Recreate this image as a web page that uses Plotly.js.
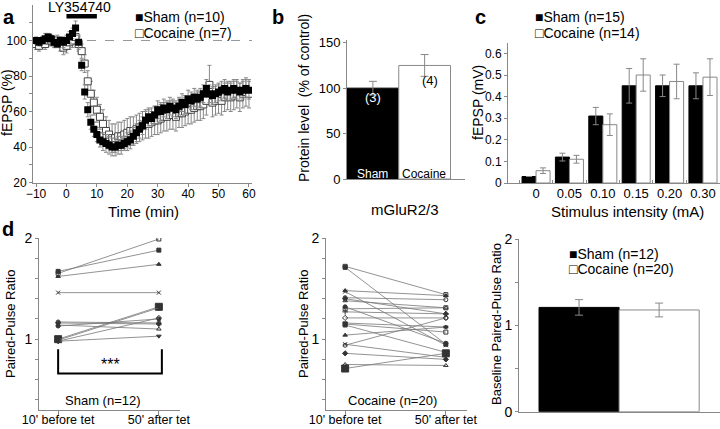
<!DOCTYPE html>
<html><head><meta charset="utf-8">
<script src="https://cdn.plot.ly/plotly-3.0.1.min.js"></script>
<style>html,body{margin:0;padding:0;background:#fff;}#chart{width:720px;height:429px;}</style>
</head><body><div id="chart"></div>
<script>
const F = 'Arial, "Liberation Sans", sans-serif';

// ---------- Panel a : fEPSP time course ----------
const timeMin = [-10,-9,-8,-7,-6,-5,-4,-3,-2,-1,0,1,2,3,4,5,6,7,8,9,10,11,12,13,14,15,16,17,18,19,20,21,22,23,24,25,26,27,28,29,30,31,32,33,34,35,36,37,38,39,40,41,42,43,44,45,46,47,48,49,50,51,52,53,54,55,56,57,58,59,60];
const shamA = [100,99,100,101,102,101,99,98,100,99,100,102,104,107,99,86,71,61,54,50,47,44,43,42,41,40,40,41,41,42,43,44,46,48,50,52,55,57,56,58,61,60,62,61,63,62,61,63,65,64,67,66,68,67,68,70,73,70,69,70,71,72,73,71,72,73,72,71,72,73,72];
const shamAErr = [2,2,2,3,2,2,3,2,2,3,3,3,3,4,4,3,4,4,4,4,4,4,5,5,5,5,5,5,5,4,5,5,5,5,5,5,5,5,4,5,5,5,5,5,5,5,5,5,5,5,5,5,5,5,5,5,5,5,5,5,5,5,5,5,5,5,5,5,5,5,5];
const cocA = [98,97,99,98,100,100,99,100,98,96,97,99,100,102,98,94,87,77,70,65,61,57,53,49,47,45,45,46,46,47,48,49,49,50,51,52,53,53,54,55,55,56,57,57,58,58,57,59,59,60,61,61,62,63,63,64,66,75,65,66,67,66,68,69,68,69,70,68,70,71,70];
const cocAErr = [3,3,3,3,3,3,3,3,4,4,4,4,4,4,4,4,5,6,7,7,7,7,8,8,8,8,8,8,8,8,8,8,8,8,8,8,8,8,8,8,8,8,8,8,8,8,8,8,8,8,8,8,8,8,8,8,8,11,8,8,8,8,8,8,8,8,8,8,8,8,8];
const drugStart = 0, drugEnd = 10, baselineLevel = 100;

// ---------- Panel b : protein level ----------
const groupsB = ['Sham','Cocaine'];
const proteinB = [100,125];
const proteinBErr = [7.5,12];

// ---------- Panel c : input-output ----------
const stimC = ['0','0.05','0.10','0.15','0.20','0.30'];
const shamC = [0.03,0.12,0.31,0.45,0.45,0.45];
const shamCErr = [0,0.018,0.04,0.08,0.05,0.06];
const cocC = [0.057,0.11,0.27,0.50,0.47,0.49];
const cocCErr = [0.013,0.018,0.05,0.075,0.08,0.085];

// ---------- Panel d : paired-pulse ratio ----------
const ppCats = ["10' before tet","50' after tet"];
const shamBefore = [1.65,1.67,1.62,1.46,1.17,1.16,1.14,1.13,1.00,0.99,0.98,0.98];
const shamAfter  = [1.99,1.88,1.74,1.46,1.16,1.15,1.10,1.20,1.32,1.31,1.21,1.03];
const cocBefore = [1.72,1.71,1.48,1.47,1.41,1.40,1.38,1.32,1.30,1.27,1.21,1.16,1.15,1.14,1.04,0.95,0.94,0.86,0.75,0.71];
const cocAfter  = [1.44,0.95,1.43,0.94,1.39,1.25,1.31,0.96,1.31,1.25,1.21,1.12,1.07,0.87,1.12,0.82,1.21,0.80,0.74,0.86];
const groupsD = ['Sham','Cocaine'];
const basePPR = [1.21,1.18];
const basePPRErr = [0.09,0.08];

const W = 720, H = 429;
const px = v => v / W, py = v => 1 - v / H;

const traces = [];
// panel a
traces.push({type:'scatter', mode:'markers', x:timeMin, y:cocA, xaxis:'x', yaxis:'y',
  error_y:{type:'data', array:cocAErr, color:'#888', thickness:1, width:2},
  marker:{symbol:'square', size:7, color:'#fff', line:{color:'#444', width:1}}});
traces.push({type:'scatter', mode:'markers', x:timeMin, y:shamA, xaxis:'x', yaxis:'y',
  error_y:{type:'data', array:shamAErr, color:'#888', thickness:1, width:2},
  marker:{symbol:'square', size:7, color:'#000'}});
// panel b
traces.push({type:'bar', x:groupsB, y:proteinB, xaxis:'x2', yaxis:'y2', width:1,
  marker:{color:['#000','#fff'], line:{color:['#000','#888'], width:1}},
  error_y:{type:'data', array:proteinBErr, color:'#888', thickness:1, width:4}});
// panel c
traces.push({type:'bar', x:stimC, y:shamC, xaxis:'x3', yaxis:'y3', width:0.42, offset:-0.42,
  marker:{color:'#000', line:{color:'#000', width:1}},
  error_y:{type:'data', array:shamCErr, color:'#888', thickness:1, width:3}});
traces.push({type:'bar', x:stimC, y:cocC, xaxis:'x3', yaxis:'y3', width:0.42, offset:0,
  marker:{color:'#fff', line:{color:'#888', width:1}},
  error_y:{type:'data', array:cocCErr, color:'#888', thickness:1, width:3}});
// panel d left / middle
const syms = ['square-open','square','triangle-up','x-thin-open','circle-open','diamond','triangle-up-open','circle','square-open','cross-thin-open','diamond-open','triangle-down'];
function pairTraces(before, after, xa, ya, bigIdx){
  for (let i = 0; i < before.length; i++){
    traces.push({type:'scatter', mode:'lines+markers', x:ppCats, y:[before[i], after[i]], xaxis:xa, yaxis:ya,
      line:{color:'#777', width:0.8},
      marker:{symbol: i===bigIdx ? 'square' : syms[i % syms.length], size: i===bigIdx ? 7 : 4,
        color:'#333', line:{color:'#333', width:1}}});
  }
}
pairTraces(shamBefore, shamAfter, 'x4', 'y4', 8);
pairTraces(cocBefore, cocAfter, 'x5', 'y5', 19);
// panel d right
traces.push({type:'bar', x:[groupsD[0]], y:[basePPR[0]], xaxis:'x6', yaxis:'y6', width:1,
  marker:{color:'#000', line:{color:'#000', width:1}},
  error_y:{type:'data', array:[basePPRErr[0]], color:'#888', thickness:1, width:4}});
traces.push({type:'bar', x:[groupsD[1]], y:[basePPR[1]], xaxis:'x6', yaxis:'y6', width:1,
  marker:{color:'#fff', line:{color:'#888', width:1}},
  error_y:{type:'data', array:[basePPRErr[1]], color:'#888', thickness:1, width:4}});

const ax = (o) => Object.assign({showline:true, linecolor:'#888', linewidth:1, ticks:'outside', ticklen:3,
  tickcolor:'#888', zeroline:false, showgrid:false, fixedrange:true, tickangle:0, tickfont:{family:F, size:13, color:'#000'}}, o);

const ydA = [py(182.5), py(5)];
const ydD = [py(410), py(238)];
const layout = {
  width:W, height:H, margin:{l:0,r:0,t:0,b:0}, paper_bgcolor:'#fff', plot_bgcolor:'rgba(0,0,0,0)',
  showlegend:false, barmode:'overlay', font:{family:F, color:'#000'},
  xaxis: ax({domain:[px(33), px(252)], range:[-11,61], anchor:'y', tickvals:[-10,0,10,20,30,40,50,60], tickfont:{family:F,size:12}, ticklabelstandoff:-3}),
  yaxis: ax({domain:ydA, range:[20,120], anchor:'x', tickvals:[20,30,40,50,60,70,80,90,100,110],
    ticktext:['20','','40','','60','','80','','100',''], tickfont:{family:F,size:12}}),
  xaxis2: ax({domain:[px(347), px(465)], range:[-0.5,1.78], anchor:'y2', type:'category', showticklabels:false, ticks:''}),
  yaxis2: ax({domain:[py(179), py(40)], range:[0,153], anchor:'x2', tickvals:[0,50,100,150]}),
  xaxis3: ax({domain:[px(508), px(720)], range:[-0.84,5.51], anchor:'y3', type:'category', ticks:'inside', tickson:'boundaries', ticklen:3, tickfont:{family:F,size:13}, ticklabelstandoff:-2}),
  yaxis3: ax({domain:[py(183), py(42.6)], range:[0,0.65], anchor:'x3', tickvals:[0,0.1,0.2,0.3,0.4,0.5,0.6],
    ticktext:['0','0.1','0.2','0.3','0.4','0.5','0.6'], tickfont:{family:F,size:12}}),
  xaxis4: ax({domain:[px(39), px(180)], range:[-0.19,1.21], anchor:'y4', type:'category', ticklen:5, ticklabelstandoff:-7, tickfont:{family:F,size:12.5}}),
  yaxis4: ax({domain:ydD, range:[0.3,2.0], anchor:'x4', tickvals:[0.4,0.6,0.8,1,1.2,1.4,1.6,1.8,2],
    ticktext:['','','','1','','','','','2'], tickfont:{family:F,size:14}}),
  xaxis5: ax({domain:[px(326), px(467)], range:[-0.19,1.21], anchor:'y5', type:'category', ticklen:5, ticklabelstandoff:-7, tickfont:{family:F,size:12.5}}),
  yaxis5: ax({domain:ydD, range:[0.3,2.0], anchor:'x5', tickvals:[0.4,0.6,0.8,1,1.2,1.4,1.6,1.8,2],
    ticktext:['','','','1','','','','','2'], tickfont:{family:F,size:14}}),
  xaxis6: ax({domain:[px(519), px(720)], range:[-0.75,1.76], anchor:'y6', type:'category', showticklabels:false, ticks:''}),
  yaxis6: ax({domain:[py(411.7), py(239.3)], range:[0,2], anchor:'x6', tickvals:[0,0.5,1,1.5,2],
    ticktext:['0','','1','','2'], tickfont:{family:F,size:14}}),
  shapes:[
    {type:'line', xref:'x', yref:'y', x0:-11, x1:61, y0:baselineLevel, y1:baselineLevel, line:{color:'#999', width:1, dash:'dash'}, layer:'below'},
    {type:'rect', xref:'x', yref:'paper', x0:drugStart, x1:drugEnd, y0:py(18.5), y1:py(14), fillcolor:'#000', line:{width:0}},
    {type:'path', xref:'x4', yref:'y4', path:'M 0,0.9 L 0,0.66 L 1.03,0.66 L 1.03,0.9', line:{color:'#000', width:2}}
  ],
  annotations:[]
};
function ann(text, x, y, size, opts){
  layout.annotations.push(Object.assign({text:text, xref:'paper', yref:'paper', x:px(x), y:py(y), showarrow:false,
    xanchor:'center', yanchor:'middle', font:{family:F, size:size, color:'#000'}}, opts||{}));
}
ann('<b>a</b>', 9, 17, 20);
ann('<b>b</b>', 278, 17, 20);
ann('<b>c</b>', 481, 17, 20);
ann('<b>d</b>', 8, 229, 20);
ann('LY354740', 79, 7, 14);
ann('■Sham (n=10)', 133, 17, 14, {xanchor:'left'});
ann('□Cocaine (n=7)', 133, 33, 14, {xanchor:'left'});
ann('fEPSP (%)', 7, 103, 14, {textangle:-90});
ann('Time (min)', 143, 211, 15);
ann('Protein level  (% of control)', 304, 98, 14, {textangle:-90});
ann('(3)', 373, 97, 13, {font:{family:F,size:13,color:'#fff'}});
ann('(4)', 430, 80, 13);
ann('Sham', 372, 174, 12, {font:{family:F,size:12,color:'#fff'}});
ann('Cocaine', 424, 174, 12);
ann('mGluR2/3', 405, 209, 15);
ann('■Sham (n=15)', 533, 17, 14, {xanchor:'left'});
ann('□Cocaine (n=14)', 533, 33, 14, {xanchor:'left'});
ann('fEPSP (mV)', 478, 103, 14, {textangle:-90});
ann('Stimulus intensity (mA)', 627, 211, 15);
ann('Paired-Pulse Ratio', 10, 324, 13, {textangle:-90});
ann('Paired-Pulse Ratio', 303, 324, 13, {textangle:-90});
ann('Sham (n=12)', 103, 400, 13);
ann('Cocaine (n=20)', 393, 400, 13);
ann('***', 110, 364, 16);
ann('Baseline Paired-Pulse Ratio', 496, 324, 13, {textangle:-90});
ann('■Sham (n=12)', 567, 254, 14, {xanchor:'left'});
ann('□Cocaine (n=20)', 567, 269, 14, {xanchor:'left'});

Plotly.newPlot('chart', traces, layout, {staticPlot:true, displayModeBar:false});
</script></body></html>
